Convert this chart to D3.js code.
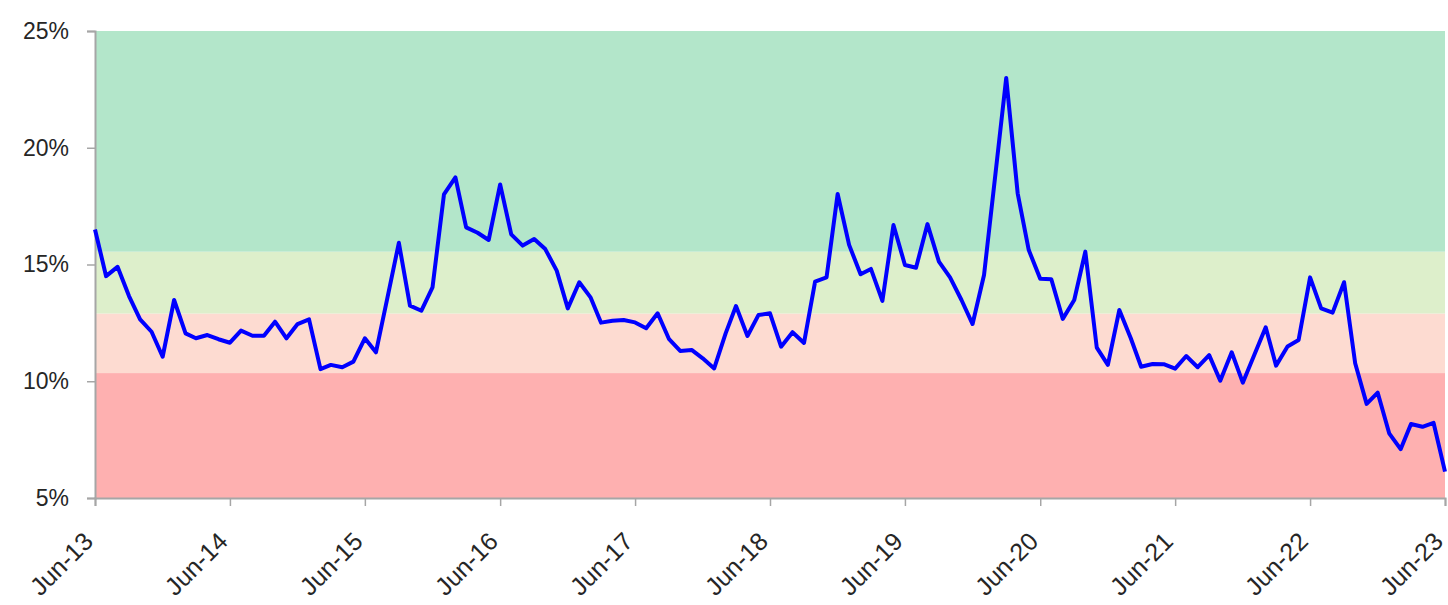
<!DOCTYPE html>
<html>
<head>
<meta charset="utf-8">
<script src="https://cdn.jsdelivr.net/npm/d3@7"></script>
<style>
  body { margin: 0; background: #fff; }
  svg { display: block; font-family: "Liberation Sans", Arial, sans-serif; }
</style>
</head>
<body>
<svg id="chart"></svg>
<script>
"use strict";

// monthly series, Jun-2013 .. Jun-2023 (percent)
const startMonth = new Date(2013, 5, 1);
const values = [
  16.5, 14.5, 14.9, 13.65, 12.65, 12.12, 11.05, 13.48, 12.05, 11.84, 11.98, 11.8,
  11.65, 12.17, 11.95, 11.95, 12.55, 11.84, 12.45, 12.65, 10.52, 10.7, 10.6, 10.84,
  11.84, 11.24, 13.57, 15.93, 13.24, 13.02, 14.02, 18.0, 18.73, 16.59, 16.36, 16.05,
  18.43, 16.29, 15.81, 16.09, 15.66, 14.74, 13.12, 14.24, 13.58, 12.51, 12.59, 12.62,
  12.52, 12.27, 12.91, 11.8, 11.3, 11.34, 10.98, 10.55, 12.05, 13.22, 11.94, 12.84,
  12.91, 11.48, 12.1, 11.64, 14.27, 14.45, 18.02, 15.84, 14.58, 14.81, 13.44, 16.69,
  14.98, 14.86, 16.73, 15.12, 14.45, 13.48, 12.45, 14.55, 18.9, 22.99, 18.05, 15.62,
  14.39, 14.37, 12.67, 13.48, 15.55, 11.44, 10.7, 13.05, 11.84, 10.62, 10.74, 10.73,
  10.54, 11.08, 10.6, 11.12, 10.02, 11.24, 9.94, 11.12, 12.31, 10.67, 11.49, 11.77,
  14.45, 13.12, 12.94, 14.24, 10.77, 9.03, 9.51, 7.77, 7.09, 8.17, 8.05, 8.22,
  6.13
];
// background band limits (percent), bottom to top
const bandLimits = [5, 10.35, 12.9, 15.55, 25];
const yTicks = [5, 10, 15, 20, 25];
const xTickYears = [2013, 2014, 2015, 2016, 2017, 2018, 2019, 2020, 2021, 2022, 2023];

const bandColors = ["#feb0b0", "#fddbd1", "#ddefcb", "#b3e6ca"];

const W = 1448, H = 605;
const margin = {top: 31, right: 3, bottom: 107, left: 95};
const width = W - margin.left - margin.right;
const height = H - margin.top - margin.bottom;

const data = values.map((v, i) => ({date: d3.timeMonth.offset(startMonth, i), value: v}));

const svg = d3.select("#chart").attr("width", W).attr("height", H);
const g = svg.append("g").attr("transform", `translate(${margin.left},${margin.top})`);

const x = d3.scaleTime()
  .domain([startMonth, data[data.length - 1].date])
  .range([0, width]);
const y = d3.scaleLinear().domain([5, 25]).range([height, 0]);

// bands
g.append("g").selectAll("rect")
  .data(d3.pairs(bandLimits))
  .join("rect")
  .attr("x", 0)
  .attr("width", width)
  .attr("y", d => y(d[1]))
  .attr("height", d => y(d[0]) - y(d[1]))
  .attr("fill", (d, i) => bandColors[i]);

// axes
const yAxis = g.append("g")
  .call(d3.axisLeft(y).tickValues(yTicks).tickSize(8).tickPadding(18)
    .tickFormat(d => d + "%"));

const xAxis = g.append("g")
  .attr("transform", `translate(0,${height})`)
  .call(d3.axisBottom(x)
    .tickValues(xTickYears.map(yr => new Date(yr, 5, 1)))
    .tickSize(8)
    .tickFormat(d3.timeFormat("%b-%y")));

[yAxis, xAxis].forEach(a => {
  a.select(".domain").attr("stroke", "#a6a6a6").attr("stroke-width", 2);
  a.selectAll(".tick line").attr("stroke", "#a6a6a6").attr("stroke-width", 1.5);
  a.selectAll("text").attr("fill", "#262626").attr("font-size", 23);
});

xAxis.selectAll("text")
  .attr("x", 0).attr("y", 0).attr("dy", 0)
  .attr("font-size", 25)
  .attr("text-anchor", "end")
  .attr("transform", "translate(-1,45) rotate(-45)");

// line
g.append("path")
  .datum(data)
  .attr("fill", "none")
  .attr("stroke", "#0000ff")
  .attr("stroke-width", 4)
  .attr("stroke-linejoin", "round")
  .attr("d", d3.line().x(d => x(d.date)).y(d => y(d.value)));
</script>
</body>
</html>
